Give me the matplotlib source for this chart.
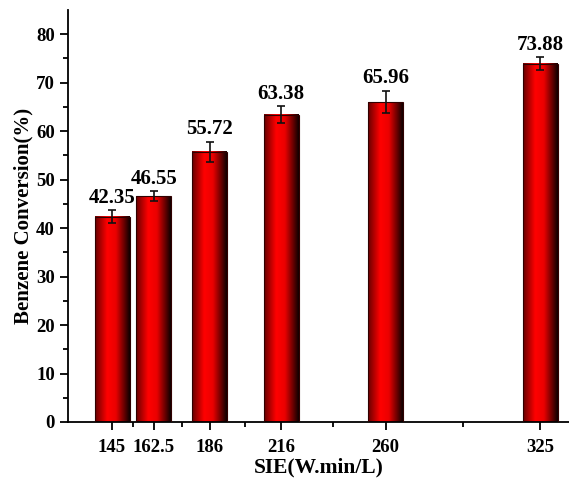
import numpy as np
import matplotlib
matplotlib.use("Agg")
import matplotlib.pyplot as plt
from matplotlib.colors import LinearSegmentedColormap

plt.rcParams['font.family'] = ['Liberation Serif', 'DejaVu Serif']
plt.rcParams['font.weight'] = 'bold'

sie = [145, 162.5, 186, 216, 260, 325]
conversion = [42.35, 46.55, 55.72, 63.38, 65.96, 73.88]
errors = [1.3, 1.0, 2.0, 1.7, 2.3, 1.3]
tick_labels = ['145', '162.5', '186', '216', '260', '325']

bar_width = 14.7

fig = plt.figure(figsize=(5.69, 4.86), dpi=100)
ax = fig.add_axes([0.1195, 0.1317, 0.8805, 0.848])

# horizontal shading: dark edge -> bright red -> black
shade = LinearSegmentedColormap.from_list(
    'shade', [(0.0, (0.4, 0, 0)), (0.35, (1, 0, 0)), (0.6, (0.92, 0, 0)), (1.0, (0.05, 0, 0))])
grad = np.linspace(0, 1, 256).reshape(1, -1)

for x, y in zip(sie, conversion):
    ax.imshow(grad, cmap=shade, aspect='auto', interpolation='bicubic',
              extent=[x - bar_width / 2, x + bar_width / 2, 0, y], zorder=2)

ax.bar(sie, conversion, width=bar_width, facecolor='none', edgecolor='#300000',
       linewidth=0.8, zorder=3)
ax.errorbar(sie, conversion, yerr=errors, fmt='none', ecolor='#111111',
            elinewidth=1.2, capsize=3, capthick=1.2, zorder=4)

for x, y, e in zip(sie, conversion, errors):
    ax.annotate(f'{y:.2f}', (x, y + e), xytext=(0, 2), textcoords='offset points',
                ha='center', va='bottom', fontsize=15, fontweight='bold')

ax.set_xlim(126.5, 337)
ax.set_ylim(0, 85)

ax.set_xticks(sie)
ax.set_xticklabels(tick_labels)
mids = [(a + b) / 2 for a, b in zip(sie[:-1], sie[1:])]
ax.set_xticks(mids, minor=True)
ax.set_yticks(np.arange(0, 81, 10))
ax.set_yticks(np.arange(5, 85, 10), minor=True)

for side in ['top', 'right']:
    ax.spines[side].set_visible(False)
for side in ['left', 'bottom']:
    ax.spines[side].set_linewidth(1.3)

ax.tick_params(which='major', direction='out', length=6, width=1.3, labelsize=13.5)
ax.tick_params(which='minor', direction='out', length=3.5, width=1.3)
ax.tick_params(axis='x', pad=6)

ax.set_xlabel('SIE(W.min/L)', fontsize=15.5, fontweight='bold', labelpad=1)
ax.set_ylabel('Benzene Conversion(%)', fontsize=15, fontweight='bold', labelpad=2)

fig.savefig('out.png', dpi=100)
